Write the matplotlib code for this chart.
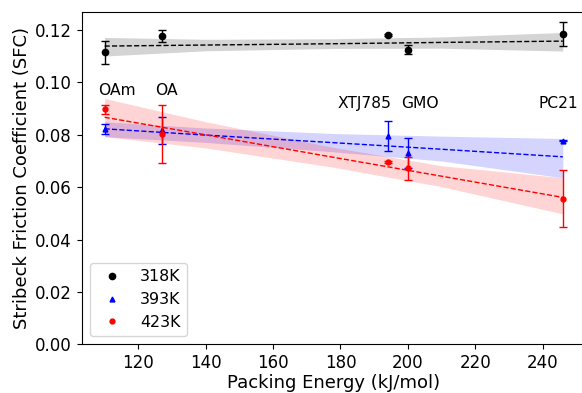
import matplotlib
matplotlib.use("Agg")
import matplotlib.pyplot as plt

# packing energy of each additive (kJ/mol)
energia = [110, 127, 194, 200, 246]
nomes = ["OAm", "OA", "XTJ785", "GMO", "PC21"]
nome_x = [113.6, 128.4, 187.0, 203.6, 244.6]
nome_y = [0.097, 0.097, 0.0918, 0.0918, 0.0918]

# SFC means and errors per temperature
sfc_318 = [0.1115, 0.1177, 0.1182, 0.1125, 0.1185]
err_318 = [0.0043, 0.0022, 0.0003, 0.0018, 0.0047]
sfc_393 = [0.0822, 0.0817, 0.0795, 0.0731, 0.0777]
err_393 = [0.0018, 0.0052, 0.0058, 0.0056, 0.0002]
sfc_423 = [0.0897, 0.0803, 0.0695, 0.0672, 0.0556]
err_423 = [0.0017, 0.0110, 0.0004, 0.0045, 0.0108]

# fitted trend and confidence band
x_ajuste = [110, 140, 178, 210, 246]
ajuste_318 = [0.1139, 0.1143, 0.1148, 0.1153, 0.1158]
sup_318 = [0.1172, 0.1165, 0.1167, 0.1174, 0.1191]
inf_318 = [0.1101, 0.1121, 0.1130, 0.1131, 0.1120]
ajuste_393 = [0.0823, 0.0799, 0.0770, 0.0745, 0.0716]
sup_393 = [0.0850, 0.0826, 0.0805, 0.0795, 0.0786]
inf_393 = [0.0793, 0.0771, 0.0735, 0.0700, 0.0636]
ajuste_423 = [0.0867, 0.0800, 0.0714, 0.0642, 0.0561]
sup_423 = [0.0939, 0.0850, 0.0752, 0.0682, 0.0636]
inf_423 = [0.0793, 0.0750, 0.0676, 0.0602, 0.0498]

series = [
    ("318K", sfc_318, err_318, ajuste_318, sup_318, inf_318, "black", "o", 4.5),
    ("393K", sfc_393, err_393, ajuste_393, sup_393, inf_393, "blue", "^", 3.5),
    ("423K", sfc_423, err_423, ajuste_423, sup_423, inf_423, "red", "o", 3.5),
]

fig = plt.figure(figsize=(5.82, 3.93), dpi=100)
ax = fig.add_axes([0.1404, 0.124, 0.866, 0.846])

for rotulo, y, e, aj, sup, inf, cor, marca, tam in series:
    ax.fill_between(x_ajuste, inf, sup, color=cor, alpha=0.17, linewidth=0)
    ax.plot(x_ajuste, aj, linestyle="--", color=cor, linewidth=1)
    ax.errorbar(energia, y, yerr=e, fmt="none", ecolor=cor, elinewidth=1,
                capsize=3, capthick=1)
    ax.plot(energia, y, linestyle="none", marker=marca, color=cor,
            markersize=tam, label=rotulo)

for nome, xt, yt in zip(nomes, nome_x, nome_y):
    ax.text(xt, yt, nome, ha="center", va="center", fontsize=11.2)

ax.set_xlim(103.2, 252.8)
ax.set_ylim(0, 0.127)
ax.set_xticks([120, 140, 160, 180, 200, 220, 240])
ax.set_yticks([0.00, 0.02, 0.04, 0.06, 0.08, 0.10, 0.12])
ax.set_yticklabels(["%.2f" % v for v in ax.get_yticks()])
ax.tick_params(labelsize=12)
ax.set_xlabel("Packing Energy (kJ/mol)", fontsize=13, labelpad=1.5)
ax.set_ylabel("Stribeck Friction Coefficient (SFC)", fontsize=13, labelpad=3)
ax.legend(loc="lower left", fontsize=11.4)

fig.savefig("out.png", dpi=100)
